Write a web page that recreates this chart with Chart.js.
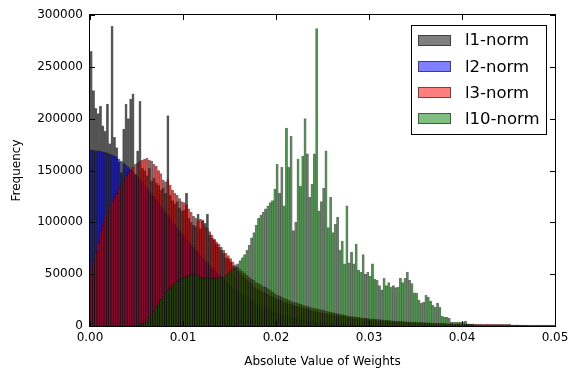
<!DOCTYPE html>
<html>
<head>
<meta charset="utf-8">
<script src="https://cdn.jsdelivr.net/npm/chart.js@4.4.0/dist/chart.umd.min.js"></script>
<style>
  html, body { margin: 0; padding: 0; background: #fff; }
</style>
</head>
<body>
<canvas id="chart" width="580" height="377"></canvas>
<script>
// histogram bins: 200 bins of 0.00025 from 0 to 0.05
const binWidth = 0.00025;
const seriesNames = ['l1-norm', 'l2-norm', 'l3-norm', 'l10-norm'];
const xTicks = [0, 0.01, 0.02, 0.03, 0.04, 0.05];
const yTicks = [0, 50000, 100000, 150000, 200000, 250000, 300000];

const l1Counts = [
  265000, 227000, 210000, 205000, 212000, 193000, 188000, 214000, 176000, 289000,
  182000, 172000, 158000, 148000, 190000, 214000, 200000, 219000, 224000, 146000,
  169000, 217000, 152000, 150000, 145000, 152000, 140000, 143000, 138000, 136000,
  131000, 133000, 128000, 203000, 126000, 121000, 118000, 120000, 114000, 111000,
  112000, 128000, 104000, 100000, 97000, 96000, 108000, 94000, 102000, 99000,
  108000, 88000, 85000, 83000, 79000, 76000, 73000, 70000, 66000, 65000,
  62000, 58000, 56000, 53000, 51000, 49000, 47000, 45000, 43000, 41000,
  38000, 36000, 35000, 34000, 32500, 32000, 30500, 29000, 28500, 27000,
  26000, 25000, 24500, 23000, 22500, 21500, 21000, 20000, 19500, 19000,
  18000, 17500, 17000, 16500, 15500, 15000, 14500, 14000, 13500, 13000,
  12500, 12000, 11800, 11300, 11000, 10500, 10000, 9700, 9300, 9000,
  8600, 8200, 8000, 7700, 7400, 7100, 6900, 6600, 6400, 6100,
  5900, 5700, 5500, 5300, 5200, 5000, 4800, 4600, 4500, 4300,
  4200, 4000, 3900, 3800, 3600, 3500, 3400, 3300, 3200, 3100,
  3000, 2900, 2800, 2700, 2600, 2500, 2400, 2300, 2200, 2100,
  2000, 1900, 1900, 1800, 1700, 1700, 1600, 1500, 1500, 1400,
  1400, 1300, 1300, 1200, 1200, 1100, 1100, 1000, 1000, 1000,
  900, 900, 900, 900, 800, 800, 800, 800, 700, 700,
  700, 700, 700, 600, 600, 600, 600, 600, 500, 500,
  500, 500, 500, 500, 400, 400, 400, 400, 400, 400
];

const l2Counts = [
  170000, 169500, 169000, 169000, 168500, 168000, 167500, 167000, 166000, 165000,
  164000, 162500, 161000, 159000, 157000, 155000, 153000, 151000, 149000, 146500,
  144000, 141500, 139000, 136000, 133000, 130000, 127500, 125000, 122000, 119000,
  116000, 113000, 110000, 107000, 104000, 101000, 98000, 95000, 92000, 89500,
  87000, 84000, 81000, 78500, 76000, 73500, 71000, 68000, 65500, 63000,
  61000, 58500, 56000, 54000, 51500, 49500, 47000, 45000, 43000, 41000,
  39000, 37000, 35500, 33500, 32000, 30500, 29000, 27500, 26000, 24500,
  23000, 22000, 20500, 19500, 18500, 17500, 16500, 15500, 14500, 13500,
  12500, 12000, 11000, 10500, 9800, 9200, 8600, 8000, 7500, 7000,
  6500, 6100, 5700, 5300, 4900, 4600, 4300, 4000, 3700, 3400,
  3200, 3000, 2800, 2600, 2400, 2200, 2000, 1900, 1700, 1600,
  1500, 1400, 1300, 1200, 1100, 1000, 900, 850, 800, 700,
  650, 600, 550, 500, 450, 400, 350, 300, 250, 200
];

const l3Counts = [
  55000, 63000, 72000, 81000, 89000, 97000, 104000, 110000, 116000, 121000,
  124000, 128000, 133000, 137000, 141000, 145000, 148000, 151000, 153000, 156000,
  157000, 159000, 160000, 161000, 162000, 160000, 159000, 156000, 154000, 150000,
  147000, 141000, 139000, 141000, 136000, 131000, 128000, 126000, 123000, 120000,
  119000, 117000, 113000, 110000, 106000, 104000, 101000, 103000, 101000, 96000,
  94000, 91000, 88000, 84000, 81000, 79000, 76000, 73000, 70000, 68000,
  65000, 62000, 59000, 57000, 55000, 53000, 51000, 49000, 47000, 45000,
  44000, 42000, 41000, 40000, 38000, 37500, 36000, 35000, 33000, 31000,
  30000, 29000, 28000, 27000, 26000, 25000, 24000, 23000, 22500, 22000,
  21000, 20000, 19500, 19000, 18000, 17500, 17000, 16500, 16000, 15500,
  15000, 14500, 14000, 13500, 13000, 12500, 12000, 11500, 11000, 10500,
  10000, 9500, 9200, 9000, 8700, 8400, 8100, 7800, 7500, 7300,
  7000, 6800, 6600, 6400, 6200, 6000, 5800, 5600, 5400, 5200,
  5000, 4800, 4700, 4500, 4400, 4200, 4100, 4000, 3900, 3800,
  3700, 3600, 3500, 3400, 3300, 3200, 3100, 3000, 2900, 2800,
  2700, 2600, 2500, 2400, 2300, 2300, 2200, 2200, 2100, 2100,
  2000, 2000, 2000, 1900, 1900, 1900, 1900, 1800, 1800, 1800,
  1800, 1800, 1700, 1800, 1700, 1700, 1700, 1600, 1700, 1600,
  1600, 1100, 1000, 1100, 1000, 1000, 1000, 900, 1000, 900,
  900, 1000, 900, 900, 900, 800, 900, 800, 800, 800
];

const l10Counts = [
  0, 0, 0, 0, 0, 0, 0, 0, 0, 0,
  0, 0, 0, 0, 0, 0, 0, 0, 300, 600,
  1000, 1500, 2500, 3500, 5000, 8000, 11000, 15000, 19000, 22000,
  25500, 28500, 31500, 34000, 36500, 39000, 41000, 43000, 44500, 46000,
  47500, 48000, 49000, 49500, 49000, 49500, 48500, 47000, 46500, 46000,
  46500, 46000, 46000, 46500, 46000, 46500, 47000, 47500, 49000, 51000,
  53000, 55000, 57000, 60000, 63000, 66000, 69000, 73000, 78000, 85000,
  90000, 97000, 104000, 107000, 110000, 113000, 116000, 119000, 121000, 132000,
  156000, 128000, 153000, 116000, 191000, 153000, 183000, 92000, 100000, 161000,
  135000, 164000, 200000, 166000, 124000, 137000, 166000, 287000, 111000, 120000,
  133000, 169000, 95000, 124000, 90000, 98000, 105000, 73000, 82000, 60000,
  116000, 61000, 71000, 60000, 79000, 54000, 52000, 69000, 50000, 52000,
  48000, 60000, 45000, 44000, 39000, 35000, 46000, 39000, 42000, 37500,
  39000, 37000, 37500, 46000, 42000, 46000, 52000, 44000, 41000, 32000,
  31500, 25000, 22000, 23000, 29800, 28000, 24000, 20000, 18000, 22000,
  18000, 9600, 8600, 8600, 7700, 3800, 3800, 3800, 3800, 3800,
  3800, 4800, 1900, 1900, 1900
];

const seriesCounts = [l1Counts, l2Counts, l3Counts, l10Counts];
const seriesColors = ['rgba(0,0,0,0.5)', 'rgba(0,0,255,0.5)', 'rgba(255,0,0,0.5)', 'rgba(0,128,0,0.5)'];
const edgeColor = 'rgba(0,0,0,0.5)';
const fontFamily = '"DejaVu Sans", sans-serif';

function toPoints(counts) {
  return counts.map((c, i) => ({ x: (i + 0.5) * binWidth, y: c }));
}

const datasets = seriesNames.map((name, i) => ({
  label: name,
  data: toPoints(seriesCounts[i]),
  backgroundColor: seriesColors[i],
  borderColor: edgeColor,
  borderWidth: 0.7,
  barPercentage: 1,
  categoryPercentage: 1,
  grouped: false,
  order: seriesNames.length - 1 - i   // first series at the bottom
}));

// matplotlib-like frame, inward ticks and boxed legend
const framePlugin = {
  id: 'frameAndLegend',
  afterDraw(chart) {
    const { ctx, chartArea: a, scales } = chart;
    const xs = scales.x, ys = scales.y;
    ctx.save();
    ctx.strokeStyle = '#000';
    ctx.lineWidth = 1;
    ctx.beginPath();
    xTicks.forEach(v => {
      const px = Math.round(xs.getPixelForValue(v)) + 0.5;
      ctx.moveTo(px, a.bottom); ctx.lineTo(px, a.bottom - 5);
      ctx.moveTo(px, a.top); ctx.lineTo(px, a.top + 5);
    });
    yTicks.forEach(v => {
      const py = Math.round(ys.getPixelForValue(v)) + 0.5;
      ctx.moveTo(a.left, py); ctx.lineTo(a.left + 5, py);
      ctx.moveTo(a.right, py); ctx.lineTo(a.right - 5, py);
    });
    ctx.stroke();
    ctx.strokeRect(Math.round(a.left) - 0.5, Math.round(a.top) - 0.5,
                   Math.round(a.width) + 1, Math.round(a.height) + 1);

    // legend
    const lx = 411.5, ly = 25.5, lw = 135, lh = 109;
    ctx.fillStyle = '#fff';
    ctx.fillRect(lx, ly, lw, lh);
    ctx.strokeRect(lx, ly, lw, lh);
    ctx.font = '16.5px ' + fontFamily;
    ctx.textBaseline = 'middle';
    ctx.textAlign = 'left';
    seriesNames.forEach((name, i) => {
      const cy = 40 + i * 26.3;
      const top = Math.round(cy - 5.5);
      ctx.fillStyle = seriesColors[i];
      ctx.fillRect(418, top, 33, 11);
      ctx.strokeStyle = edgeColor;
      ctx.strokeRect(418.5, top + 0.5, 32, 10);
      ctx.fillStyle = '#000';
      ctx.fillText(name, 465, cy + 1);
    });
    ctx.restore();
  }
};

const tickFont = { family: fontFamily, size: 12 };

new Chart(document.getElementById('chart').getContext('2d'), {
  type: 'bar',
  data: { datasets: datasets },
  options: {
    responsive: false,
    animation: false,
    events: [],
    layout: { padding: { top: 15, right: 25, left: 0, bottom: 0 } },
    plugins: { legend: { display: false }, tooltip: { enabled: false } },
    scales: {
      x: {
        type: 'linear',
        min: 0,
        max: 0.05,
        offset: false,
        grid: { display: false, drawTicks: false },
        border: { display: false },
        afterBuildTicks: s => { s.ticks = xTicks.map(v => ({ value: v })); },
        ticks: {
          color: '#000', font: tickFont, padding: 5, maxRotation: 0, autoSkip: false,
          callback: v => v.toFixed(2)
        },
        title: {
          display: true, text: 'Absolute Value of Weights', color: '#000',
          font: tickFont, padding: { top: 0, bottom: 8 }
        },
        afterFit: s => { s.height = 51; }
      },
      y: {
        min: 0,
        max: 300000,
        grid: { display: false, drawTicks: false },
        border: { display: false },
        afterBuildTicks: s => { s.ticks = yTicks.map(v => ({ value: v })); },
        ticks: { color: '#000', font: tickFont, padding: 7, callback: v => String(v) },
        title: {
          display: true, text: 'Frequency', color: '#000',
          font: tickFont, padding: { top: 10, bottom: 0 }
        },
        afterFit: s => { s.width = 90; }
      }
    }
  },
  plugins: [framePlugin]
});
</script>
</body>
</html>
